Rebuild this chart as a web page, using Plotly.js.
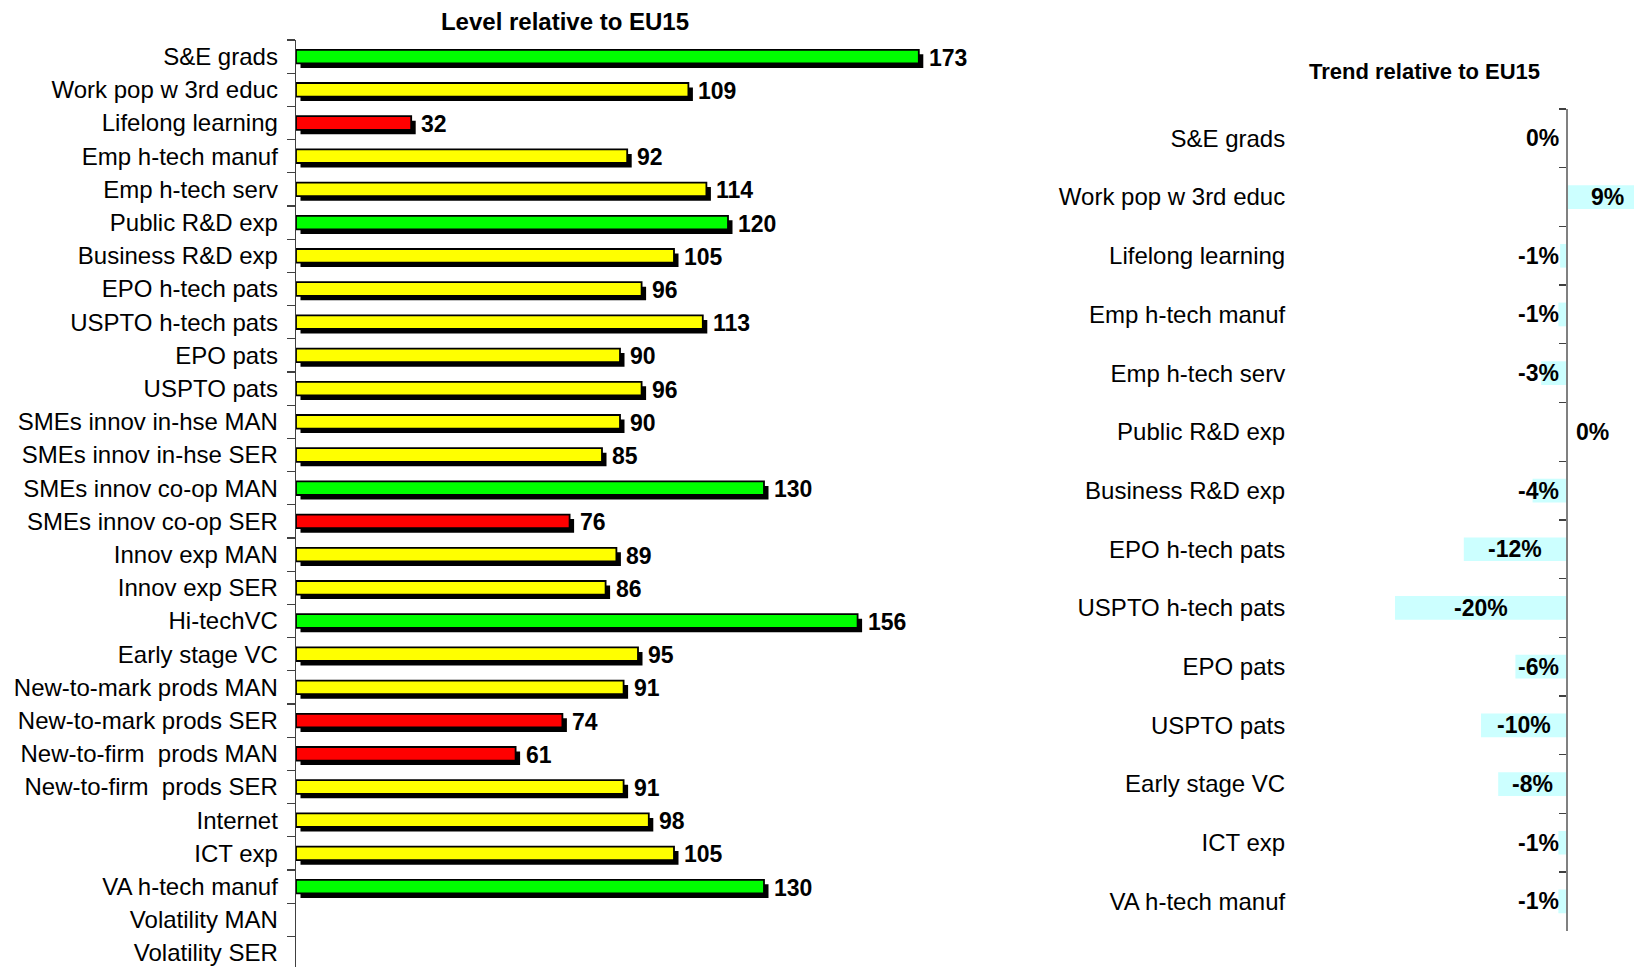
<!DOCTYPE html>
<html>
<head>
<meta charset="utf-8">
<script src="https://cdn.plot.ly/plotly-3.0.1.min.js"></script>
<style>html,body{margin:0;padding:0;background:#fff;}#chart{width:1634px;height:967px;}</style>
</head>
<body>
<div id="chart"></div>
<script>
// ---- Data ----
const levelCategories = [
  'S&E grads', 'Work pop w 3rd educ', 'Lifelong learning', 'Emp h-tech manuf', 'Emp h-tech serv',
  'Public R&D exp', 'Business R&D exp', 'EPO h-tech pats', 'USPTO h-tech pats', 'EPO pats',
  'USPTO pats', 'SMEs innov in-hse MAN', 'SMEs innov in-hse SER', 'SMEs innov co-op MAN',
  'SMEs innov co-op SER', 'Innov exp MAN', 'Innov exp SER', 'Hi-techVC', 'Early stage VC',
  'New-to-mark prods MAN', 'New-to-mark prods SER', 'New-to-firm  prods MAN', 'New-to-firm  prods SER',
  'Internet', 'ICT exp', 'VA h-tech manuf', 'Volatility MAN', 'Volatility SER'
];
const levelValues = [173, 109, 32, 92, 114, 120, 105, 96, 113, 90, 96, 90, 85, 130, 76, 89, 86, 156, 95, 91, 74, 61, 91, 98, 105, 130, null, null];
const levelStatus = ['high', 'mid', 'low', 'mid', 'mid', 'high', 'mid', 'mid', 'mid', 'mid', 'mid', 'mid', 'mid', 'high', 'low', 'mid', 'mid', 'high', 'mid', 'mid', 'low', 'low', 'mid', 'mid', 'mid', 'high', null, null];

const trendCategories = [
  'S&E grads', 'Work pop w 3rd educ', 'Lifelong learning', 'Emp h-tech manuf', 'Emp h-tech serv',
  'Public R&D exp', 'Business R&D exp', 'EPO h-tech pats', 'USPTO h-tech pats', 'EPO pats',
  'USPTO pats', 'Early stage VC', 'ICT exp', 'VA h-tech manuf'
];
const trendValues = [-0.1, 9, -0.8, -1, -3, 0.1, -4, -12, -20, -6, -10, -8, -1, -1];

// ---- Styling ----
const statusColors = {high: '#00FF00', mid: '#FFFF00', low: '#FF0000'};
const FONT = 'Liberation Sans, Arial, sans-serif';
const W = 1634, H = 967;

// left chart geometry
const L_x0 = 296, L_pxPerUnit = 3.6, L_x1 = 1000;
const L_top = 40, L_catPx = 33.2;
const L_range = [0, (L_x1 - L_x0) / L_pxPerUnit];
const L_yMax = -0.5 + (H - L_top) / L_catPx;
const barW = 0.41;
const shadowDx = 4.5 / L_pxPerUnit;
const shadowDy = 4.5 / L_catPx;

// right chart geometry
const R_axisPx = 1567, R_pxPerUnit = 8.6, R_left = 1300;
const R_top = 109, R_catPx = 58.7;
const R_range = [-(R_axisPx - R_left) / R_pxPerUnit, (W - R_axisPx) / R_pxPerUnit];
const R_bottom = R_top + trendCategories.length * R_catPx;

const colors = levelStatus.map(s => s ? statusColors[s] : 'rgba(0,0,0,0)');

const shadowTrace = {
  type: 'bar', orientation: 'h', x: levelValues, y: levelCategories,
  base: shadowDx, width: barW, offset: -barW / 2 + shadowDy,
  marker: {color: '#000000', line: {width: 0}},
  xaxis: 'x', yaxis: 'y', hoverinfo: 'skip', showlegend: false
};
const mainTrace = {
  type: 'bar', orientation: 'h', x: levelValues, y: levelCategories,
  width: barW, offset: -barW / 2,
  marker: {color: colors, line: {color: '#000000', width: 1.8}},
  xaxis: 'x', yaxis: 'y', showlegend: false
};
const trendTrace = {
  type: 'bar', orientation: 'h', x: trendValues, y: trendCategories,
  width: 0.404,
  marker: {color: '#CCFFFF', line: {width: 0}},
  xaxis: 'x2', yaxis: 'y2', showlegend: false
};

const annotations = [];
levelValues.forEach((v, i) => {
  if (v == null) return;
  annotations.push({
    x: v, y: levelCategories[i], xref: 'x', yref: 'y',
    text: '<b>' + v + '</b>', showarrow: false, xanchor: 'left', yanchor: 'middle',
    xshift: 8, yshift: -1,
    font: {family: FONT, size: 23, color: '#000'}
  });
});

const charW = {'-': 0.333, '%': 0.889, '0': 0.556, '1': 0.556, '2': 0.556, '3': 0.556, '4': 0.556, '5': 0.556, '6': 0.556, '7': 0.556, '8': 0.556, '9': 0.556};
trendValues.forEach((v, i) => {
  const label = Math.round(v) + '%';
  const half = label.split('').reduce((s, c) => s + (charW[c] || 0.556), 0) * 23 / 2;
  const halfBarPx = Math.abs(v) * R_pxPerUnit / 2;
  const a = {
    y: trendCategories[i], xref: 'x2', yref: 'y2', text: '<b>' + label + '</b>',
    showarrow: false, yanchor: 'middle', font: {family: FONT, size: 23, color: '#000'}
  };
  if (v <= 0) {
    if (halfBarPx < half + 9) { a.x = 0; a.xanchor = 'right'; a.xshift = -6; }
    else { a.x = v / 2; a.xanchor = 'center'; }
  } else {
    if (halfBarPx < half + 10) { a.x = 0; a.xanchor = 'left'; a.xshift = 7; }
    else { a.x = v / 2; a.xanchor = 'center'; a.xshift = 2; }
  }
  annotations.push(a);
});

annotations.push({
  text: '<b>Trend relative to EU15</b>', xref: 'paper', yref: 'paper',
  x: 1424 / W, y: 1 - 72 / H, xanchor: 'center', yanchor: 'middle', showarrow: false,
  font: {family: FONT, size: 22, color: '#000'}
});

const layout = {
  width: W, height: H,
  margin: {l: 0, r: 0, t: 0, b: 0, pad: 0},
  paper_bgcolor: '#ffffff', plot_bgcolor: 'rgba(0,0,0,0)',
  barmode: 'overlay',
  showlegend: false,
  title: {
    text: '<b>Level relative to EU15</b>', xref: 'paper', yref: 'paper',
    x: 565 / W, y: 1 - 22 / H, xanchor: 'center', yanchor: 'middle',
    font: {family: FONT, size: 24, color: '#000'}
  },
  xaxis: {
    domain: [L_x0 / W, L_x1 / W], range: L_range, anchor: 'y',
    showline: false, showgrid: false, zeroline: false, showticklabels: false, ticks: ''
  },
  yaxis: {
    domain: [0, 1 - L_top / H], range: [L_yMax, -0.5], anchor: 'x',
    type: 'category', categoryorder: 'array', categoryarray: levelCategories,
    showline: true, linecolor: '#404040', linewidth: 1.3,
    ticks: 'outside', tickson: 'boundaries', ticklen: 8, tickcolor: '#404040', tickwidth: 1.3,
    showgrid: false, zeroline: false, ticklabelstandoff: 12,
    tickfont: {family: FONT, size: 24, color: '#000'}
  },
  xaxis2: {
    domain: [R_left / W, 1], range: R_range, anchor: 'y2',
    showline: false, showgrid: false, zeroline: false, showticklabels: false, ticks: ''
  },
  yaxis2: {
    domain: [1 - R_bottom / H, 1 - R_top / H], range: [trendCategories.length - 0.5, -0.5],
    anchor: 'free', position: R_axisPx / W,
    type: 'category', categoryorder: 'array', categoryarray: trendCategories,
    showline: true, linecolor: '#808080', linewidth: 2,
    ticks: 'outside', tickson: 'boundaries', ticklen: 7, tickcolor: '#404040', tickwidth: 1.3,
    showgrid: false, zeroline: false, ticklabelstandoff: 276,
    tickfont: {family: FONT, size: 24, color: '#000'}
  },
  annotations: annotations
};

Plotly.newPlot('chart', [shadowTrace, mainTrace, trendTrace], layout, {displayModeBar: false, staticPlot: true});
</script>
</body>
</html>
